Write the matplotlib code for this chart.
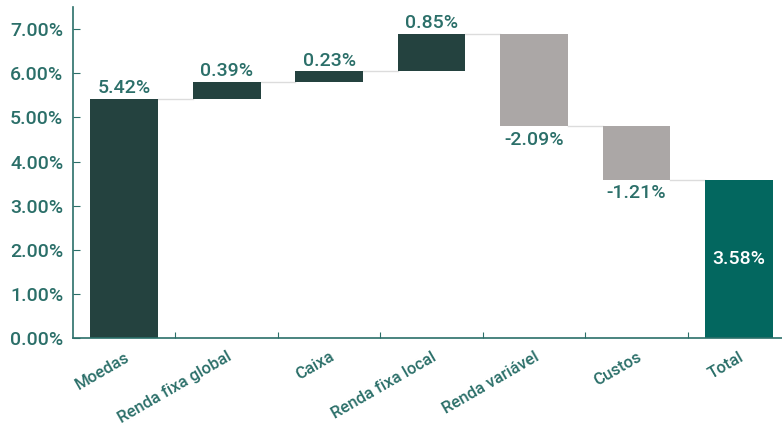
import numpy as np
import matplotlib.pyplot as plt
from matplotlib.ticker import FuncFormatter

# data
categories = ["Moedas", "Renda fixa global", "Caixa", "Renda fixa local",
              "Renda variável", "Custos", "Total"]
changes = [5.42, 0.39, 0.23, 0.85, -2.09, -1.21, 3.58]
is_total = [False, False, False, False, False, False, True]

dark = "#24423f"
grey = "#aba7a6"
teal = "#03675f"
txt = "#2b6f69"

plt.rcParams['font.family'] = ['Roboto', 'DejaVu Sans']

fig = plt.figure(figsize=(7.82, 4.38), dpi=100)
ax = fig.add_axes([0.0934, 0.228, 0.9066, 0.756])

x = np.arange(len(categories))
w = 0.66
running = 0.0
for i, (c, tot) in enumerate(zip(changes, is_total)):
    if tot:
        bottom, height, col = 0, c, teal
        end = c
    elif i == 0:
        bottom, height, col = 0, c, dark
        end = c
    else:
        bottom = running if c >= 0 else running + c
        height = abs(c)
        col = dark if c >= 0 else grey
        end = running + c
    ax.bar(x[i], height, bottom=bottom, width=w, color=col, zorder=2)
    if i > 0:
        ax.plot([x[i - 1] + w / 2, x[i] - w / 2], [running, running],
                color="#dcdcdc", lw=1, zorder=1)
    lab = "%.2f%%" % c
    if tot:
        ax.text(x[i], c / 2, lab, ha="center", va="center", color="white",
                fontsize=14, fontweight="medium")
    elif c >= 0:
        ax.text(x[i], bottom + height + 0.04, lab, ha="center", va="bottom",
                color=txt, fontsize=14, fontweight="medium")
    else:
        ax.text(x[i], bottom - 0.1, lab, ha="center", va="top",
                color=txt, fontsize=14, fontweight="medium")
    running = end

ax.set_xlim(-0.5, 6.42)
ax.set_ylim(0, 7.5)
ax.set_yticks(np.arange(0, 8, 1))
ax.yaxis.set_major_formatter(FuncFormatter(lambda v, p: "%.2f%%" % v))

ax.set_xticks(x[:-1] + 0.5)
ax.set_xticklabels([])
ax.set_xticks(x, minor=True)
ax.set_xticklabels(categories, minor=True, rotation=30, ha="right",
                   rotation_mode="anchor", color=txt, fontsize=12,
                   fontweight="medium")
ax.tick_params(axis="x", which="minor", length=0, pad=8)
ax.tick_params(axis="x", which="major", direction="in", length=4, color=txt)
ax.tick_params(axis="y", direction="in", length=5, color=txt, labelcolor=txt,
               labelsize=14, pad=7)
for t in ax.get_yticklabels():
    t.set_fontweight("medium")

for s in ["top", "right"]:
    ax.spines[s].set_visible(False)
for s in ["left", "bottom"]:
    ax.spines[s].set_color(txt)
    ax.spines[s].set_linewidth(1.2)

fig.savefig("out.png", dpi=100)
